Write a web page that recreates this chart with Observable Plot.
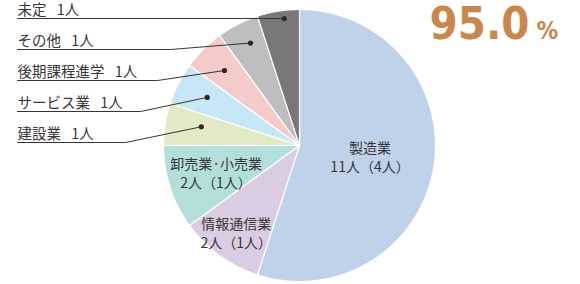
<!DOCTYPE html>
<html>
<head>
<meta charset="utf-8">
<script src="https://cdn.jsdelivr.net/npm/d3@7"></script>
<script src="https://cdn.jsdelivr.net/npm/@observablehq/plot@0.6"></script>
<style>
  html, body { margin: 0; padding: 0; background: #ffffff; }
  #chart svg { display: block; }
</style>
</head>
<body>
<div id="chart"></div>
<script>
// Employment destinations (number of people, women in parentheses)
const categories = ["製造業", "情報通信業", "卸売業·小売業", "建設業", "サービス業", "後期課程進学", "その他", "未定"];
const counts = [11, 2, 2, 1, 1, 1, 1, 1];
const womenCounts = [4, 1, 1, null, null, null, null, null];
const sliceColors = ["#c0d1ea", "#dacce3", "#b3dfdb", "#e2eac5", "#c7e6f6", "#f5cbca", "#bebebe", "#787878"];
const rateValue = 95.0;
const rateUnit = "%";

// Layout of the pie in pixel units
const W = 580, H = 284;
const cx = 299, cy = 145, R = 136;
const textColor = "#3a3636";
const jpFont = "'Noto Sans CJK JP', 'Noto Sans', sans-serif";
const numFont = "'DejaVu Sans Condensed', 'DejaVu Sans', sans-serif";
const rateColor = "#c9874d";

const rows = categories.map((name, i) => ({name, count: counts[i], women: womenCounts[i], color: sliceColors[i]}));
const arcs = d3.pie().sort(null).value(d => d.count)(rows);
const polar = (a, r) => ({x: cx + r * Math.sin(a), y: cy - r * Math.cos(a)});

// Slice outlines: centre, arc points, back to the centre
const slicePoints = arcs.flatMap(a => {
  const n = Math.max(2, Math.ceil((a.endAngle - a.startAngle) / (Math.PI / 180)));
  const pts = [{name: a.data.name, ...polar(0, 0)}];
  for (let k = 0; k <= n; ++k) {
    const ang = a.startAngle + (a.endAngle - a.startAngle) * k / n;
    pts.push({name: a.data.name, ...polar(ang, R)});
  }
  return pts;
});

// Labels placed inside the larger slices
const innerRadius = {"製造業": 0.525, "情報通信業": 0.79, "卸売業·小売業": 0.645};
const innerLabels = arcs.filter(a => a.data.women != null).map(a => {
  const mid = (a.startAngle + a.endAngle) / 2;
  const p = polar(mid, R * innerRadius[a.data.name]);
  return {...p, text: `${a.data.name}\n${a.data.count}人（${a.data.women}人）`};
});

// Callouts for the small slices, stacked on the left
const callouts = {
  "未定":       {row: 0, r: 0.94, t: 0.62, bend: null},
  "その他":     {row: 1, r: 0.835, t: 0.58, bend: 170},
  "後期課程進学": {row: 2, r: 0.78, t: 0.5, bend: 157},
  "サービス業":  {row: 3, r: 0.765, t: 0.53, bend: 140},
  "建設業":     {row: 4, r: 0.735, t: 0.6, bend: 125}
};
const lineTop = 18, lineGap = 31, lineLeft = 17;
const calloutArcs = arcs.filter(a => callouts[a.data.name]);
const dots = calloutArcs.map(a => {
  const c = callouts[a.data.name];
  const ang = a.startAngle + (a.endAngle - a.startAngle) * c.t;
  return {name: a.data.name, ...polar(ang, R * c.r)};
});
const leaderPoints = dots.flatMap(d => {
  const c = callouts[d.name];
  const ly = lineTop + lineGap * c.row;
  return [
    {name: d.name, x: d.x, y: d.y},
    {name: d.name, x: c.bend != null ? c.bend : d.x, y: ly},
    {name: d.name, x: lineLeft, y: ly}
  ];
});
const leftLabels = calloutArcs.map(a => {
  const c = callouts[a.data.name];
  return {x: lineLeft, y: lineTop + lineGap * c.row - 4, text: `${a.data.name}\u2002\u2009${a.data.count}人`};
});

const chart = Plot.plot({
  width: W,
  height: H,
  margin: 0,
  style: {background: "#ffffff", overflow: "visible"},
  x: {domain: [0, W], range: [0, W], axis: null},
  y: {domain: [0, H], range: [0, H], axis: null},
  color: {domain: categories, range: sliceColors},
  marks: [
    Plot.line(slicePoints, {x: "x", y: "y", z: "name", fill: "name", stroke: "#ffffff", strokeWidth: 1.2, curve: "linear-closed"}),
    Plot.line(leaderPoints, {x: "x", y: "y", z: "name", stroke: "#3a3333", strokeWidth: 1}),
    Plot.dot(dots, {x: "x", y: "y", r: 2.6, fill: "#2f2626", stroke: "none"}),
    Plot.text(leftLabels, {x: "x", y: "y", text: "text", textAnchor: "start", lineAnchor: "bottom", fontSize: 14.5, fontFamily: jpFont, fill: textColor}),
    Plot.text(innerLabels, {x: "x", y: "y", text: "text", textAnchor: "middle", lineAnchor: "middle", lineHeight: 1.35, fontSize: 14, fontFamily: jpFont, fill: textColor}),
    Plot.text([rateValue], {x: () => 529, y: () => 38.5, text: d => d.toFixed(1), textAnchor: "end", lineAnchor: "bottom", fontSize: 45, fontWeight: "bold", fontFamily: numFont, fill: rateColor}),
    Plot.text([rateUnit], {x: () => 536, y: () => 38.5, text: d => d, textAnchor: "start", lineAnchor: "bottom", fontSize: 24, fontWeight: "bold", fontFamily: numFont, fill: rateColor})
  ]
});

document.getElementById("chart").appendChild(chart);
</script>
</body>
</html>
